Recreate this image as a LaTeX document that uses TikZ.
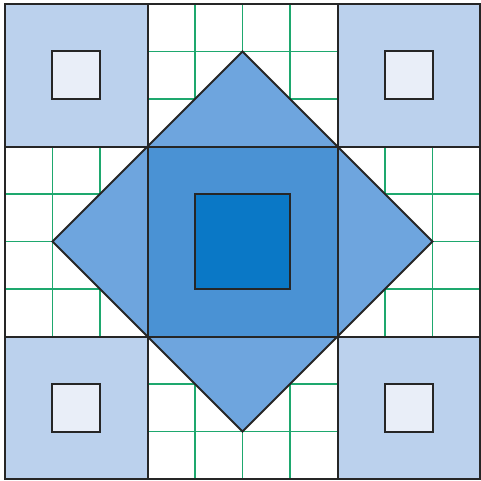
\documentclass[tikz,border=0pt]{standalone}
\usepackage{tikz}
\usetikzlibrary{
    calc,               % calcoli con coordinate
    positioning         % posizionamento avanzato dei nodi
}

\definecolor{angolo}{RGB}{187,209,237}
\definecolor{chiaro}{RGB}{233,238,248}
\definecolor{rombo}{RGB}{110,165,222}
\definecolor{centro}{RGB}{74,146,212}
\definecolor{nucleo}{RGB}{10,120,198}
\definecolor{griglia}{RGB}{30,168,110}

\begin{document}
\begin{tikzpicture}[
        bordo/.style={line width=1.2pt, black!85},
        reticolo/.style={line width=0.9pt, griglia}
    ]

        \useasboundingbox (-0.105,-0.04) rectangle (10.02,10.084);

        % Esempio: griglia verde di sfondo
        \foreach \k in {1,...,9} {
            \draw[reticolo] (\k,0) -- (\k,10);
            \draw[reticolo] (0,\k) -- (10,\k);
        }

        % Esempio: quadrati d'angolo
        \foreach \x/\y in {0/0, 7/0, 0/7, 7/7} {
            \fill[angolo] (\x,\y) rectangle ++(3,3);
            \draw[bordo, fill=chiaro] (\x+1,\y+1) rectangle ++(1,1);
        }

        % Esempio: rombo
        \draw[bordo, fill=rombo] (5,9) -- (1,5) -- (5,1) -- (9,5) -- cycle;

        % Esempio: quadrato centrale
        \draw[bordo, fill=centro] (3,3) rectangle (7,7);
        \draw[bordo, fill=nucleo] (4,4) rectangle (6,6);

        % Esempio: linee di divisione
        \foreach \k in {3,7} {
            \draw[bordo] (\k,0) -- (\k,10);
            \draw[bordo] (0,\k) -- (10,\k);
        }
        \draw[bordo] (0,0) rectangle (10,10);

    \end{tikzpicture}
\end{document}
